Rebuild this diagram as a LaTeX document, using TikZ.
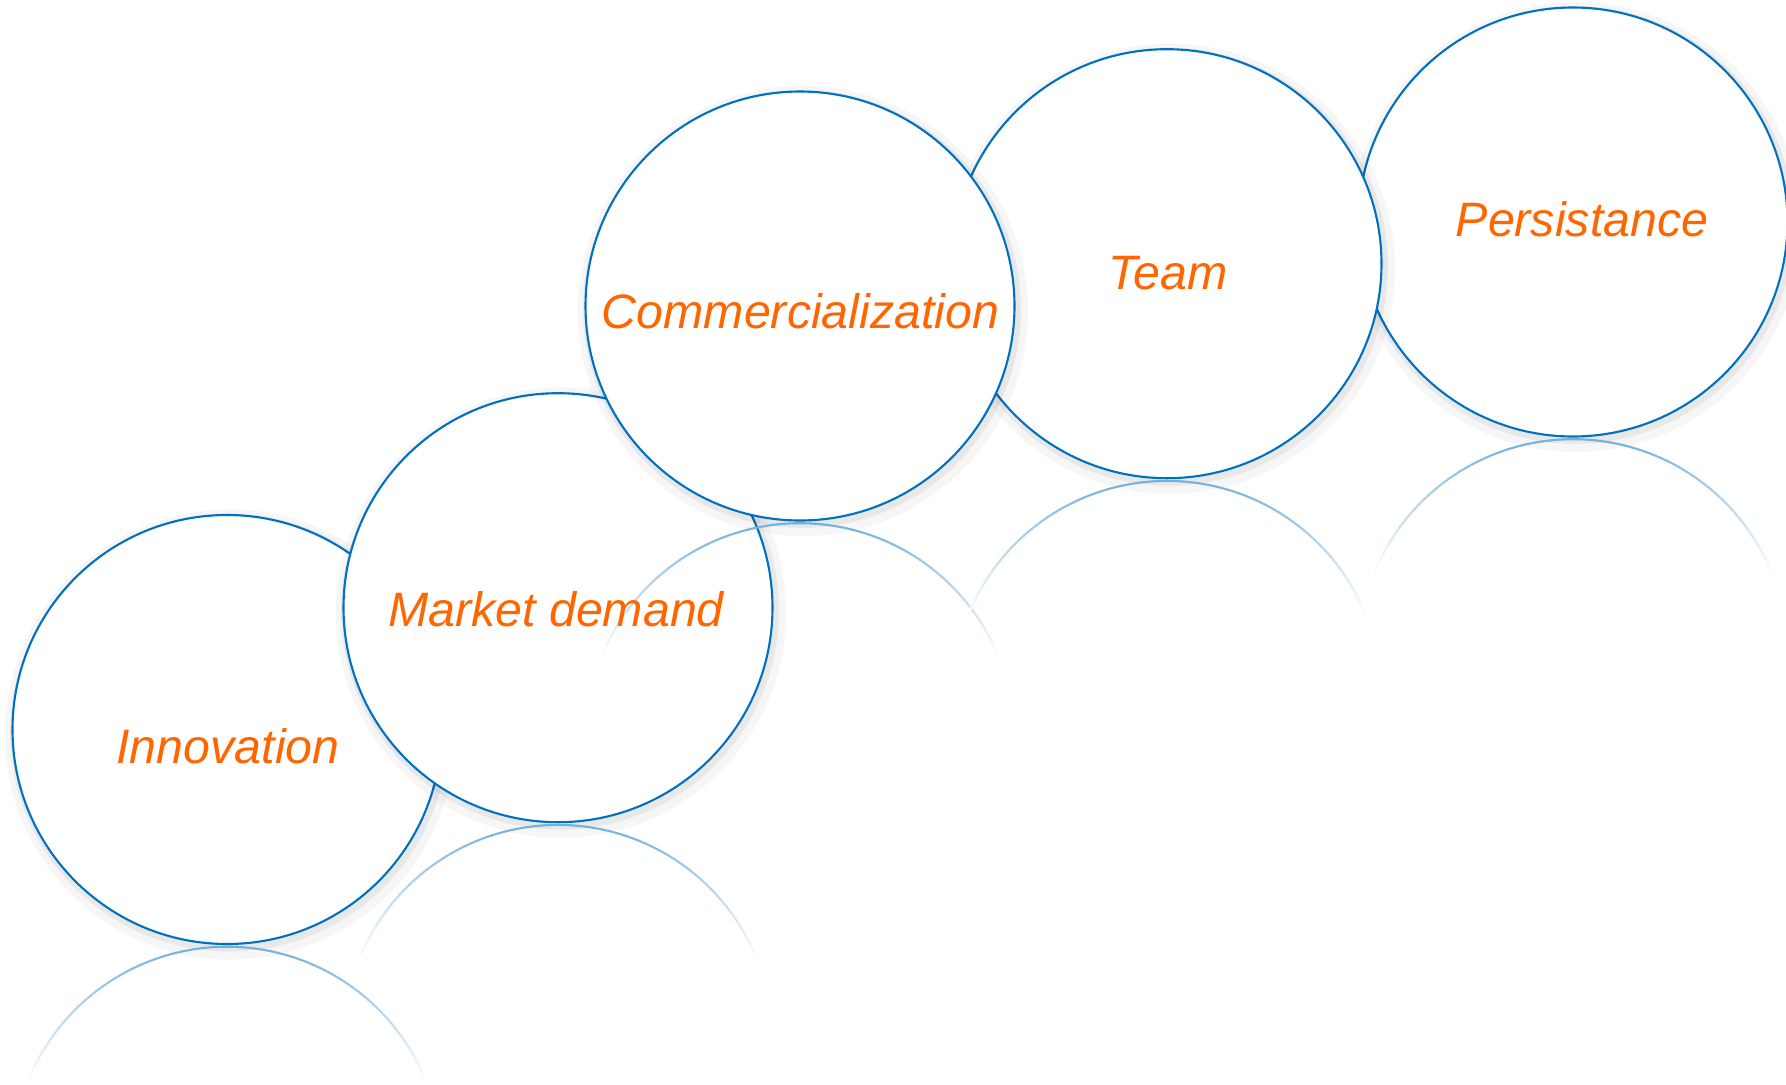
\documentclass[tikz,border=0pt]{standalone}
\usepackage{fontspec}
\setmainfont{Liberation Sans}
\usetikzlibrary{shadows}

\definecolor{ringblue}{HTML}{0070C0}
\definecolor{wordorange}{HTML}{FF6600}

\tikzset{
  bubble/.style={circle, draw=ringblue, fill=white, line width=0.6pt,
    minimum size=4.29cm, inner sep=0pt, outer sep=0pt,
    drop shadow={fill=none, draw=black, opacity=1, draw opacity=0.035,
      line width=6pt, shadow xshift=0.3mm, shadow yshift=-0.5mm},
    drop shadow={fill=none, draw=black, opacity=1, draw opacity=0.06,
      line width=2.5pt, shadow xshift=0.2mm, shadow yshift=-0.3mm}},
  bubbletext/.style={anchor=base, inner sep=0pt, text=wordorange,
    font=\fontsize{13.75}{16}\selectfont\itshape},
  mirror/.style={line width=0.6pt, line cap=round}
}

\begin{document}
\begin{tikzpicture}

    \useasboundingbox (0,0) rectangle (17.86,10.84);

    % Define nodes
    \node[bubble] (inno) at (2.27,3.545) {};
    \node[bubble] (mkt)  at (5.58,4.763) {};
    \node[bubble] (pers) at (15.73,8.62) {};
    \node[bubble] (team) at (11.67,8.203) {};
    \node[bubble] (comm) at (8.00,7.78) {};

    % Reflections
    \foreach \cx/\cy in {2.27/-0.772, 5.58/0.446, 8.00/3.463, 11.67/3.886, 15.73/4.303}{
      \foreach \a in {20,22,...,88}{
        \pgfmathsetmacro\fadepct{max(0,55*(1-2.145*(1-sin(\a+1))/1.35))}
        \draw[mirror, ringblue!\fadepct!white] (\cx,\cy) ++(\a:2.145)
          arc[start angle=\a, end angle=\a+2, radius=2.145];
        \draw[mirror, ringblue!\fadepct!white] (\cx,\cy) ++(180-\a:2.145)
          arc[start angle=180-\a, end angle=178-\a, radius=2.145];
      }
    }

    % Labels
    \node[bubbletext] (innotxt) at (2.28,3.207)  {Innovation};
    \node[bubbletext] (mkttxt)  at (5.56,4.573)  {Market demand};
    \node[bubbletext] (commtxt) at (8.005,7.557) {Commercialization};
    \node[bubbletext] (teamtxt) at (11.68,7.947) {Team};
    \node[bubbletext] (perstxt) at (15.82,8.473) {Persistance};

\end{tikzpicture}
\end{document}
